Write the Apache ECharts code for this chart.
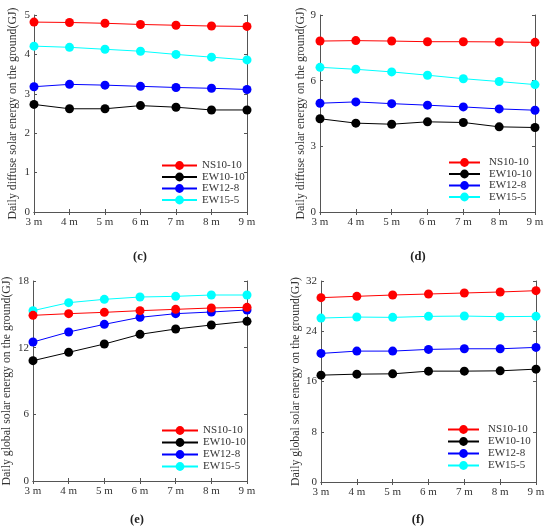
<!DOCTYPE html>
<html lang="en">
<head>
  <meta charset="UTF-8">
  <title>solar energy</title>
  <style>
    html, body { margin: 0; padding: 0; background: #fff; }
    #chart { width: 550px; height: 529px; }
  </style>
</head>
<body>
  <div id="chart"></div>
  <script src="https://cdn.jsdelivr.net/npm/echarts@6/dist/echarts.min.js"></script>
  <script>
    // 横轴：间距
    const spacing = ['3 m', '4 m', '5 m', '6 m', '7 m', '8 m', '9 m']
    const seriesNames = ['NS10-10', 'EW10-10', 'EW12-8', 'EW15-5']
    const colors = ['#ff0000', '#000000', '#0000ff', '#00ffff']

    // (c) 散射
    const diffuseC = [
      [4.82, 4.81, 4.79, 4.76, 4.74, 4.72, 4.71],
      [2.73, 2.62, 2.62, 2.70, 2.66, 2.59, 2.59],
      [3.18, 3.24, 3.22, 3.19, 3.16, 3.14, 3.11],
      [4.21, 4.18, 4.13, 4.08, 4.00, 3.93, 3.86]
    ]
    // (d) 散射
    const diffuseD = [
      [7.81, 7.83, 7.81, 7.78, 7.78, 7.77, 7.75],
      [4.26, 4.06, 4.01, 4.12, 4.09, 3.89, 3.86],
      [4.97, 5.03, 4.95, 4.88, 4.80, 4.71, 4.65],
      [6.61, 6.52, 6.40, 6.25, 6.09, 5.96, 5.82]
    ]
    // (e) 总辐射
    const globalE = [
      [14.91, 15.06, 15.18, 15.33, 15.45, 15.57, 15.63],
      [10.83, 11.58, 12.33, 13.20, 13.68, 14.04, 14.37],
      [12.51, 13.41, 14.10, 14.73, 15.06, 15.21, 15.39],
      [15.33, 16.05, 16.35, 16.56, 16.62, 16.74, 16.74]
    ]
    // (f) 总辐射
    const globalF = [
      [29.35, 29.56, 29.77, 29.93, 30.09, 30.25, 30.46],
      [17.01, 17.17, 17.22, 17.65, 17.65, 17.70, 17.97],
      [20.47, 20.84, 20.84, 21.11, 21.21, 21.21, 21.43],
      [26.10, 26.26, 26.21, 26.37, 26.42, 26.32, 26.37]
    ]

    const yMax = [5, 9, 18, 32]
    const yStep = [1, 3, 6, 8]
    const panelLabels = ['(c)', '(d)', '(e)', '(f)']
    const yNames = [
      'Daily diffuse solar energy on the ground(GJ)',
      'Daily diffuse solar energy on the ground(GJ)',
      'Daily global solar energy on the ground(GJ)',
      'Daily global solar energy on the ground(GJ)'
    ]
    const panelData = [diffuseC, diffuseD, globalE, globalF]

    // 布局
    const grids = [
      { left: 34, top: 15, width: 213, height: 197 },
      { left: 320, top: 15, width: 215, height: 197 },
      { left: 33, top: 281, width: 214, height: 200 },
      { left: 321, top: 281, width: 215, height: 201 }
    ]
    const nameGaps = [15, 10, 20, 16]
    const legendPos = [
      { left: 161, top: 160, itemWidth: 35, textGap: 0, gap: 0.5 },
      { left: 448, top: 157, itemWidth: 31, textGap: 4, gap: 0.5 },
      { left: 161, top: 425, itemWidth: 36, textGap: 0, gap: 1 },
      { left: 447, top: 424, itemWidth: 31, textGap: 4, gap: 1 }
    ]
    const labelPos = [[140, 257], [418, 257], [137, 520], [418, 520]]

    const font = 'Liberation Serif'
    const axisColor = '#555'

    const xAxis = []
    const yAxis = []
    const series = []
    const legend = []
    const graphic = []

    grids.forEach((g, i) => {
      const frame = { lineStyle: { color: axisColor, width: 1 } }
      xAxis.push({
        gridIndex: i, type: 'category', data: spacing, boundaryGap: false,
        axisLine: frame,
        axisTick: { inside: true, length: 3, lineStyle: { color: axisColor } },
        axisLabel: { color: '#333', fontFamily: font, fontSize: 11, margin: 5 }
      })
      xAxis.push({
        gridIndex: i, type: 'category', data: spacing, boundaryGap: false, position: 'top',
        axisLine: frame,
        axisTick: { inside: true, length: 3, lineStyle: { color: axisColor } },
        axisLabel: { show: false }
      })
      yAxis.push({
        gridIndex: i, type: 'value', min: 0, max: yMax[i], interval: yStep[i],
        name: yNames[i], nameLocation: 'middle', nameGap: nameGaps[i],
        nameTextStyle: { color: '#333', fontFamily: font, fontSize: 11.8 },
        axisLine: { show: true, lineStyle: { color: axisColor, width: 1 } },
        axisTick: { show: true, inside: true, length: 3, lineStyle: { color: axisColor } },
        axisLabel: { color: '#333', fontFamily: font, fontSize: 11, margin: 4 },
        splitLine: { show: false }
      })
      yAxis.push({
        gridIndex: i, type: 'value', min: 0, max: yMax[i], interval: yStep[i], position: 'right',
        axisLine: { show: true, lineStyle: { color: axisColor, width: 1 } },
        axisTick: { show: true, inside: true, length: 3, lineStyle: { color: axisColor } },
        axisLabel: { show: false },
        splitLine: { show: false }
      })

      panelData[i].forEach((vals, k) => {
        series.push({
          type: 'line', name: seriesNames[k],
          xAxisIndex: 2 * i, yAxisIndex: 2 * i,
          data: vals,
          symbol: 'circle', symbolSize: 9,
          itemStyle: { color: colors[k] },
          lineStyle: { color: colors[k], width: 1 },
          z: 10 - k,
          animation: false
        })
      })

      const lp = legendPos[i]
      legend.push({
        orient: 'vertical', left: lp.left, top: lp.top, padding: 0,
        itemWidth: lp.itemWidth, itemHeight: 11, itemGap: lp.gap,
        data: seriesNames,
        textStyle: {
          fontFamily: font, fontSize: 11, color: '#333', lineHeight: 11,
          padding: [0, 0, 0, lp.textGap]
        },
        selectedMode: false
      })

      graphic.push({
        type: 'text', x: labelPos[i][0], y: labelPos[i][1],
        style: {
          text: panelLabels[i], fill: '#222', font: 'bold 12.5px "Liberation Serif"',
          textAlign: 'center', textVerticalAlign: 'middle'
        }
      })
    })

    const myChart = echarts.init(document.getElementById('chart'))
    myChart.setOption({
      animation: false,
      grid: grids,
      xAxis,
      yAxis,
      legend,
      series,
      graphic
    })
  </script>
</body>
</html>
